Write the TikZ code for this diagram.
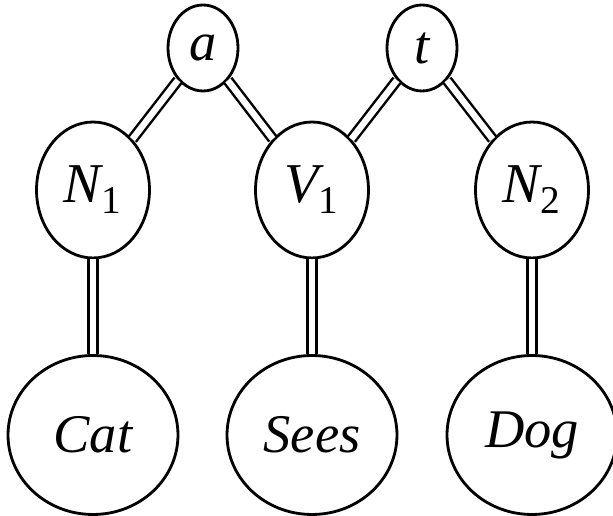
\documentclass[tikz,border=0pt]{standalone}
\usepackage{fontspec}
\setmainfont{Liberation Serif}
\usetikzlibrary{shapes.geometric}

\begin{document}
\begin{tikzpicture}[x=0.02cm,y=-0.02cm,
  rel/.style={ellipse,draw,line width=1.6pt,minimum width=1.4cm,minimum height=1.72cm,inner sep=0pt,font=\fontsize{31}{31}\selectfont\itshape},
  cat/.style={ellipse,draw,line width=1.6pt,minimum width=2.26cm,minimum height=2.72cm,inner sep=0pt,font=\fontsize{32}{32}\selectfont\itshape},
  word/.style={ellipse,draw,line width=1.6pt,minimum width=3.4cm,minimum height=3.18cm,inner sep=0pt,font=\fontsize{31}{31}\selectfont\itshape},
  link/.style={double,line width=1.4pt,double distance=3.6pt}]
  \useasboundingbox (0,0) rectangle (613,516);
  \node[rel] (ra) at (203,48) {a};
  \node[rel] (rt) at (422,48) {t};
  \foreach \n/\x/\s/\i/\w in {n1/93/N/1/Cat,v1/312/V/1/Sees,n2/532/N/2/Dog} {
     \node[cat] (\n) at (\x,190) {\s\textsubscript{\upshape\i}};
     \node[word] (w\n) at (\x,435) {\w};}
  \draw[link] (ra) -- (n1); \draw[link] (ra) -- (v1);
  \draw[link] (rt) -- (v1); \draw[link] (rt) -- (n2);
  \foreach \n in {n1,v1,n2} \draw[link] (\n) -- (w\n);
\end{tikzpicture}
\end{document}
